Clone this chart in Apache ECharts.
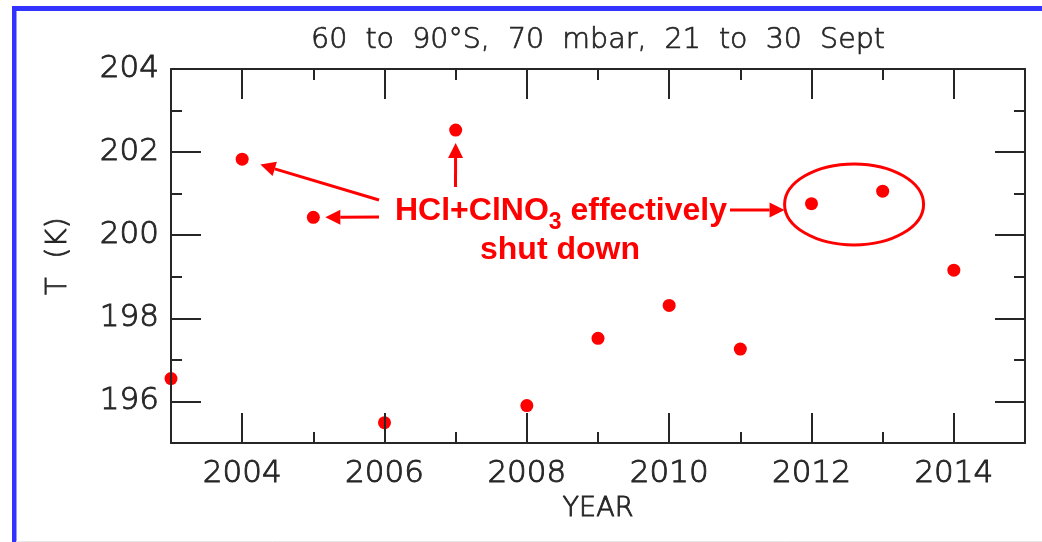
<!DOCTYPE html>
<html>
<head>
<meta charset="utf-8">
<title>60 to 90°S, 70 mbar, 21 to 30 Sept</title>
<script src="https://cdn.jsdelivr.net/npm/echarts@6/dist/echarts.min.js"></script>
<style>
  html, body { margin: 0; padding: 0; background: #fff; }
  #chart { width: 1042px; height: 542px; }
</style>
</head>
<body>
<div id="chart"></div>
<script>
// Mean polar temperature, 60-90°S at 70 mbar, averaged over 21-30 September
const years = [2003, 2004, 2005, 2006, 2007, 2008, 2009, 2010, 2011, 2012, 2013, 2014];
const temperature = [196.55, 201.83, 200.43, 195.49, 202.53, 195.90, 197.52, 198.31, 197.26, 200.76, 201.06, 199.16];

// Axis ticks: labelled majors on even years / even kelvins, short minors between
const xMajorTicks = [2004, 2006, 2008, 2010, 2012, 2014];
const xMinorTicks = [2005, 2007, 2009, 2011, 2013];
const yMajorTicks = [196, 198, 200, 202, 204];
const yMinorTicks = [197, 199, 201, 203];

// Years highlighted by the annotation
const shutDownYears = [2004, 2005, 2007, 2012, 2013];

const titleText = '60  to  90°S,  70  mbar,  21  to  30  Sept';
const annotationLine1 = '{n|HCl+ClNO}{s|3}{n| effectively}';
const annotationLine2 = 'shut down';

const INK = '#262626';
const RED = '#ff0000';
const FONT = 'DejaVu Sans';
const LIGHT = 200;

// Thin face, thickened slightly with an outline of the same ink
function thinText(size, extra) {
  return Object.assign({
    color: INK, fontFamily: FONT, fontWeight: LIGHT, fontSize: size,
    textBorderColor: INK, textBorderWidth: 0.9
  }, extra || {});
}

const chart = echarts.init(document.getElementById('chart'), null, { renderer: 'canvas' });

function xAxisDef(position, ticks, len, withLabels, withLine) {
  return {
    type: 'value', position: position, min: 2003, max: 2015, z: 3,
    axisLine: { show: withLine, onZero: false, lineStyle: { color: INK, width: 2 } },
    axisTick: { show: true, inside: true, length: len, customValues: ticks, lineStyle: { color: INK, width: 2 } },
    axisLabel: withLabels ? thinText(31, {
      show: true, customValues: ticks, margin: 15,
      formatter: v => String(v)
    }) : { show: false },
    splitLine: { show: false },
    name: withLabels ? 'YEAR' : '',
    nameLocation: 'middle', nameGap: 52,
    nameTextStyle: thinText(27)
  };
}

function yAxisDef(position, ticks, len, withLabels, withLine) {
  return {
    type: 'value', position: position, min: 195, max: 204, z: 3,
    axisLine: { show: withLine, onZero: false, lineStyle: { color: INK, width: 2 } },
    axisTick: { show: true, inside: true, length: len, customValues: ticks, lineStyle: { color: INK, width: 2 } },
    axisLabel: withLabels ? thinText(31, {
      show: true, customValues: ticks, margin: 12
    }) : { show: false },
    splitLine: { show: false },
    name: withLabels ? 'T  (K)' : '',
    nameLocation: 'middle', nameGap: 98, nameRotate: 90,
    nameTextStyle: thinText(29)
  };
}

chart.setOption({
  animation: false,
  backgroundColor: '#fff',
  grid: { left: 171, top: 69, width: 854, height: 374, outerBoundsMode: 'none' },
  xAxis: [
    xAxisDef('bottom', xMajorTicks, 30, true, true),
    xAxisDef('bottom', xMinorTicks, 11, false, false),
    xAxisDef('top', xMajorTicks, 30, false, true),
    xAxisDef('top', xMinorTicks, 11, false, false)
  ],
  yAxis: [
    yAxisDef('left', yMajorTicks, 30, true, true),
    yAxisDef('left', yMinorTicks, 11, false, false),
    yAxisDef('right', yMajorTicks, 30, false, true),
    yAxisDef('right', yMinorTicks, 11, false, false)
  ],
  series: [{
    type: 'scatter',
    xAxisIndex: 0, yAxisIndex: 0,
    symbol: 'circle', symbolSize: 13,
    itemStyle: { color: RED, opacity: 1 },
    data: years.map((y, i) => [y, temperature[i]]),
    z: 2
  }]
});

// Pixel position of a year's data point
function pointPx(year) {
  const i = years.indexOf(year);
  return chart.convertToPixel({ seriesIndex: 0 }, [years[i], temperature[i]]);
}

// Arrow from (x1,y1) to tip (x2,y2), with a filled triangular head
function arrow(x1, y1, x2, y2) {
  const dx = x2 - x1, dy = y2 - y1;
  const d = Math.sqrt(dx * dx + dy * dy);
  const ux = dx / d, uy = dy / d;
  const headLen = 15, headHalf = 7.5;
  const bx = x2 - ux * headLen, by = y2 - uy * headLen;
  return [
    { type: 'line', shape: { x1: x1, y1: y1, x2: bx, y2: by },
      style: { stroke: RED, lineWidth: 3 }, z: 10 },
    { type: 'polygon',
      shape: { points: [[x2, y2], [bx - uy * headHalf, by + ux * headHalf], [bx + uy * headHalf, by - ux * headHalf]] },
      style: { fill: RED }, z: 10 }
  ];
}

// Tip placed a few pixels short of a point, on the line from the tail
function tipNear(year, tail, gap) {
  const p = pointPx(year);
  const dx = tail[0] - p[0], dy = tail[1] - p[1];
  const d = Math.sqrt(dx * dx + dy * dy);
  return [p[0] + dx / d * gap, p[1] + dy / d * gap];
}

const p12 = pointPx(shutDownYears[3]);
const p13 = pointPx(shutDownYears[4]);
const ellCx = (p12[0] + p13[0]) / 2 + 7;
const ellCy = (p12[1] + p13[1]) / 2 + 7;
const ellRx = 69.5, ellRy = 40.5;

const tail2004 = [379, 200];
const tail2005 = [379, 217];
const tail2007 = [455.5, 187];
const tailRing = [730, 210];

const t2004 = tipNear(shutDownYears[0], tail2004, 19);
const t2005 = tipNear(shutDownYears[1], tail2005, 12);
const t2007 = tipNear(shutDownYears[2], tail2007, 13);

const graphics = [
  // frame of the panel
  { type: 'rect', shape: { x: 12, y: 6, width: 1030, height: 5 }, style: { fill: '#3333ff' }, z: 20 },
  { type: 'rect', shape: { x: 12, y: 6, width: 4.5, height: 536 }, style: { fill: '#3333ff' }, z: 20 },
  { type: 'line', shape: { x1: 16, y1: 541.5, x2: 1042, y2: 541.5 }, style: { stroke: '#e6e6e6', lineWidth: 1 }, z: 20 },
  // title
  { type: 'text', x: 598, y: 41, z: 10,
    style: { text: titleText, fill: INK, font: LIGHT + ' 28.5px "DejaVu Sans"',
      stroke: INK, lineWidth: 0.7,
      textAlign: 'center', textVerticalAlign: 'middle' } },
  // annotation text
  { type: 'text', x: 561, y: 211, z: 10,
    style: {
      text: annotationLine1, textAlign: 'center', textVerticalAlign: 'middle',
      rich: {
        n: { fill: RED, fontFamily: 'Liberation Sans', fontWeight: 'bold', fontSize: 32, lineHeight: 46 },
        s: { fill: RED, fontFamily: 'Liberation Sans', fontWeight: 'bold', fontSize: 23, lineHeight: 23, verticalAlign: 'bottom' }
      }
    } },
  { type: 'text', x: 560, y: 250, z: 10,
    style: { text: annotationLine2, fill: RED, font: 'bold 32px "Liberation Sans"', textAlign: 'center', textVerticalAlign: 'middle' } },
  // ring round the two most recent cases
  { type: 'ellipse', shape: { cx: ellCx, cy: ellCy, rx: ellRx, ry: ellRy },
    style: { fill: 'none', stroke: RED, lineWidth: 3 }, z: 10 }
]
  .concat(arrow(tail2004[0], tail2004[1], t2004[0], t2004[1]))
  .concat(arrow(tail2005[0], tail2005[1], t2005[0], t2005[1]))
  .concat(arrow(tail2007[0], tail2007[1], t2007[0], t2007[1]))
  .concat(arrow(tailRing[0], tailRing[1], ellCx - ellRx, tailRing[1]));

chart.setOption({ graphic: graphics });
</script>
</body>
</html>
